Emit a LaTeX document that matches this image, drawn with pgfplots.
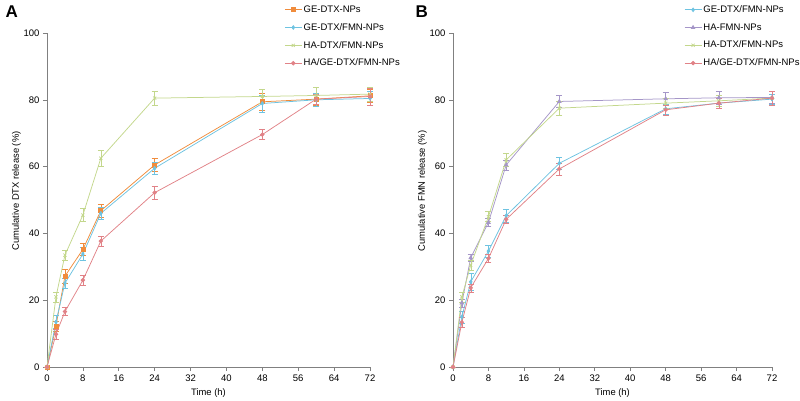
\documentclass[border=0pt]{standalone}
\usepackage{pgfplots}
\pgfplotsset{compat=1.18}
\usepackage{fontspec}
\setmainfont{Liberation Sans}
\definecolor{cOr}{RGB}{240,140,60}
\definecolor{cCy}{RGB}{110,195,225}
\definecolor{cGr}{RGB}{195,215,140}
\definecolor{cPk}{RGB}{225,130,135}
\definecolor{cPu}{RGB}{165,150,200}
\definecolor{cAx}{RGB}{128,128,128}
\pgfplotsset{
  panel/.style={
    scale only axis, anchor=south west,
    xmin=0, xmax=72, ymin=0, ymax=100,
    xtick={0,8,...,72}, ytick={0,20,...,100},
    axis lines=left, axis line style={-, cAx, line width=0.6pt},
    tick align=outside, tick style={cAx, line width=0.6pt},
    major tick length=4pt,
    clip=false,
    /pgf/number format/assume math mode=true,
    ticklabel style={font=\fontsize{9.5}{10}\selectfont},
    label style={font=\fontsize{9.4}{10}\selectfont},
    xlabel={Time (h)},
    xlabel style={yshift=-1pt},
    ylabel style={yshift=-4pt, at={(ticklabel cs:0.527)}},
    legend style={draw=none, fill=none, font=\fontsize{9.5}{10}\selectfont,
      row sep=5.5pt, anchor=north west, legend cell align=left,
      nodes={inner xsep=1.5pt}},
    every axis plot/.append style={line width=0.75pt, mark size=2pt,
      error bars/y dir=both, error bars/y explicit,
      error bars/error mark options={rotate=90, mark size=3pt, line width=0.6pt}},
  },
}
\begin{document}
\begin{tikzpicture}
\path[use as bounding box] (0pt,0pt) rectangle (800pt,400pt);
\node[font=\bfseries\fontsize{17}{17}\selectfont, anchor=north west] at (2pt,398pt) {A};
\node[font=\bfseries\fontsize{17}{17}\selectfont, anchor=north west] at (412pt,398pt) {B};
\begin{axis}[panel, at={(47pt,33pt)}, width=323pt, height=334pt,
  ylabel={Cumulative DTX release (\%)},
  legend style={at={(rel axis cs:0.725,1.0945)}}]
\addplot[cOr, mark=square*, error bars/error bar style={cOr}] coordinates {
 (0,0) +- (0,0) (2,12.3) +- (0,1.5) (4,27.2) +- (0,2) (8,35.2) +- (0,1.8) (12,46.8) +- (0,2)
 (24,60.5) +- (0,2) (48,79.4) +- (0,2.5) (60,80.2) +- (0,1.8) (72,81.2) +- (0,2)};
\addlegendentry{GE-DTX-NPs}
\addplot[cCy, mark=diamond*, mark size=1.8pt, error bars/error bar style={cCy}] coordinates {
 (0,0) +- (0,0) (2,13.5) +- (0,2) (4,25.1) +- (0,1.5) (8,33.8) +- (0,2) (12,46) +- (0,1.8)
 (24,59.5) +- (0,1.8) (48,78.9) +- (0,2.5) (60,80) +- (0,1.8) (72,80.4) +- (0,2)};
\addlegendentry{GE-DTX/FMN-NPs}
\addplot[cGr, mark=x, mark size=2.2pt, error bars/error bar style={cGr}] coordinates {
 (0,0) +- (0,0) (2,21) +- (0,1.5) (4,33.5) +- (0,1.5) (8,45.5) +- (0,2) (12,62.5) +- (0,2.5)
 (24,80.5) +- (0,2) (48,81) +- (0,2) (60,81.3) +- (0,2.5) (72,81.7) +- (0,2)};
\addlegendentry{HA-DTX/FMN-NPs}
\addplot[cPk, mark=*, mark size=1.8pt, error bars/error bar style={cPk}] coordinates {
 (0,0) +- (0,0) (2,9.8) +- (0,1.5) (4,16.6) +- (0,1.2) (8,26) +- (0,1.5) (12,37.7) +- (0,1.5)
 (24,52.2) +- (0,2) (48,69.6) +- (0,1.5) (60,80.2) +- (0,1.5) (72,81) +- (0,2.5)};
\addlegendentry{HA/GE-DTX/FMN-NPs}
\end{axis}
\begin{axis}[panel, at={(453pt,33pt)}, width=319pt, height=334pt,
  ylabel={Cumulative FMN release (\%)},
  legend style={at={(rel axis cs:0.7146,1.0945)}}]
\addplot[cCy, mark=diamond*, mark size=1.8pt, error bars/error bar style={cCy}] coordinates {
 (0,0) +- (0,0) (2,15) +- (0,1.8) (4,25.5) +- (0,2.5) (8,34.7) +- (0,1.8) (12,45.3) +- (0,2)
 (24,61) +- (0,1.8) (48,77.3) +- (0,1.5) (60,79) +- (0,1.5) (72,80.2) +- (0,1.5)};
\addlegendentry{GE-DTX/FMN-NPs}
\addplot[cPu, mark=triangle*, mark size=2pt, error bars/error bar style={cPu}] coordinates {
 (0,0) +- (0,0) (2,19.2) +- (0,1.2) (4,32.7) +- (0,1) (8,43.3) +- (0,1.2) (12,60.5) +- (0,1.5)
 (24,79.5) +- (0,1.8) (48,80.3) +- (0,1.8) (60,80.6) +- (0,1.8) (72,80.7) +- (0,1.8)};
\addlegendentry{HA-FMN-NPs}
\addplot[cGr, mark=x, mark size=2.2pt, error bars/error bar style={cGr}] coordinates {
 (0,0) +- (0,0) (2,21) +- (0,1.5) (4,30.5) +- (0,1.5) (8,45) +- (0,1.5) (12,62) +- (0,2)
 (24,77.5) +- (0,2) (48,79) +- (0,1.5) (60,79.7) +- (0,1.5) (72,80.5) +- (0,2)};
\addlegendentry{HA-DTX/FMN-NPs}
\addplot[cPk, mark=*, mark size=1.8pt, error bars/error bar style={cPk}] coordinates {
 (0,0) +- (0,0) (2,13.4) +- (0,1.5) (4,23.7) +- (0,1.2) (8,32.5) +- (0,1.2) (12,44.2) +- (0,1.2)
 (24,59.3) +- (0,1.8) (48,77) +- (0,1.5) (60,79) +- (0,1.5) (72,80.5) +- (0,2)};
\addlegendentry{HA/GE-DTX/FMN-NPs}
\end{axis}
\end{tikzpicture}
\end{document}
